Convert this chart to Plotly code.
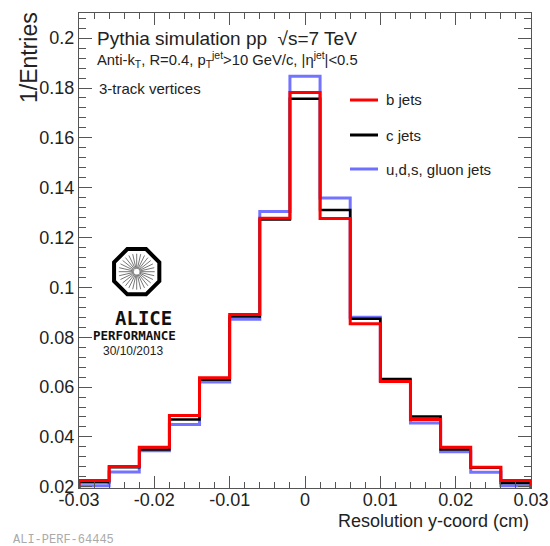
import math
import plotly.graph_objects as go

# ---------------- data ----------------
bin_edges = [-0.030, -0.026, -0.022, -0.018, -0.014, -0.010, -0.006, -0.002,
             0.002, 0.006, 0.010, 0.014, 0.018, 0.022, 0.026, 0.030]
b_jets = [0.0225, 0.0281, 0.0359, 0.0486, 0.0637, 0.0891, 0.1277, 0.1782,
          0.1276, 0.0854, 0.0622, 0.0470, 0.0359, 0.0278, 0.0225]
c_jets = [0.0218, 0.0278, 0.0349, 0.0470, 0.0629, 0.0883, 0.1272, 0.1757,
          0.1311, 0.0874, 0.0632, 0.0482, 0.0349, 0.0276, 0.0215]
udsg_jets = [0.0204, 0.0259, 0.0344, 0.0450, 0.0620, 0.0872, 0.1304, 0.1847,
             0.1359, 0.0880, 0.0626, 0.0456, 0.0340, 0.0258, 0.0204]
x_tick_vals = [-0.03, -0.02, -0.01, 0.0, 0.01, 0.02, 0.03]
x_tick_text = ["-0.03", "-0.02", "-0.01", "0", "0.01", "0.02", "0.03"]
y_tick_vals = [0.02, 0.04, 0.06, 0.08, 0.1, 0.12, 0.14, 0.16, 0.18, 0.2]
y_tick_text = ["0.02", "0.04", "0.06", "0.08", "0.1", "0.12", "0.14", "0.16", "0.18", "0.2"]

series = [
    ("u,d,s, gluon jets", udsg_jets, "rgba(90,90,255,0.85)", 3),
    ("c jets", c_jets, "black", 2.5),
    ("b jets", b_jets, "red", 3),
]

W, H = 550, 546
L, R, T, B = 79, 531, 13, 488
FONT = "Liberation Sans, Arial, sans-serif"


def px(x):
    return (x - L) / (R - L)


def py(y):
    return (B - y) / (B - T)


fig = go.Figure()
for name, vals, col, lw in series:
    xs = [bin_edges[0]] + bin_edges[:-1] + [bin_edges[-1]]
    ys = [0] + list(vals) + [0]
    fig.add_trace(go.Scatter(x=xs, y=ys, mode="lines", line=dict(shape="hv", color=col, width=lw),
                             name=name, showlegend=False, hoverinfo="skip"))

shapes = []
annotations = []

# legend (manual)
leg = [("b jets", "red", 100), ("c jets", "black", 135), ("u,d,s, gluon jets", "rgb(110,110,255)", 169)]
for txt, col, yy in leg:
    shapes.append(dict(type="line", xref="paper", yref="paper", x0=px(350), x1=px(378),
                       y0=py(yy), y1=py(yy), line=dict(color=col, width=3)))
    annotations.append(dict(text=txt, xref="paper", yref="paper", x=px(384), y=py(yy),
                            xanchor="left", yanchor="middle", showarrow=False,
                            font=dict(family=FONT, size=15, color="#222")))

# texts
annotations += [
    dict(text="Pythia simulation pp  √s=7 TeV", xref="paper", yref="paper", x=px(95), y=py(38),
         xanchor="left", yanchor="middle", showarrow=False, font=dict(family=FONT, size=19, color="#222")),
    dict(text="Anti-k<sub>T</sub>, R=0.4, p<sub>T</sub><sup>jet</sup>>10 GeV/c, |η<sup>jet</sup>|<0.5",
         xref="paper", yref="paper", x=px(95), y=py(60),
         xanchor="left", yanchor="middle", showarrow=False, font=dict(family=FONT, size=14.8, color="#222")),
    dict(text="3-track vertices", xref="paper", yref="paper", x=px(97), y=py(88),
         xanchor="left", yanchor="middle", showarrow=False, font=dict(family=FONT, size=15, color="#222")),
    dict(text="1/Entries", xref="paper", yref="paper", x=px(29), y=py(58), textangle=-90,
         xanchor="center", yanchor="middle", showarrow=False, font=dict(family=FONT, size=23, color="#222")),
    dict(text="Resolution y-coord (cm)", xref="paper", yref="paper", x=px(531), y=py(521),
         xanchor="right", yanchor="middle", showarrow=False, font=dict(family=FONT, size=18, color="#222")),
    dict(text="ALI-PERF-64445", xref="paper", yref="paper", x=px(11), y=py(540),
         xanchor="left", yanchor="middle", showarrow=False,
         font=dict(family="Liberation Mono, Courier New, monospace", size=12, color="#aaa")),
    dict(text="<b>ALICE</b>", xref="paper", yref="paper", x=px(143), y=py(318),
         xanchor="center", yanchor="middle", showarrow=False,
         font=dict(family="DejaVu Sans Mono, monospace", size=19, color="#111")),
    dict(text="<b>PERFORMANCE</b>", xref="paper", yref="paper", x=px(134), y=py(335),
         xanchor="center", yanchor="middle", showarrow=False,
         font=dict(family="DejaVu Sans Mono, monospace", size=12.5, color="#111")),
    dict(text="30/10/2013", xref="paper", yref="paper", x=px(133), y=py(351),
         xanchor="center", yanchor="middle", showarrow=False,
         font=dict(family=FONT, size=12, color="#222")),
]

# ALICE logo octagon
cx, cy, rad = 136.7, 271.7, 24.5
pts = []
for k in range(8):
    a = math.radians(22.5 + 45 * k)
    pts.append((px(cx + rad * math.cos(a)), py(cy + rad * math.sin(a))))
path = "M " + " L ".join(f"{x:.5f},{y:.5f}" for x, y in pts) + " Z"
shapes.append(dict(type="path", xref="paper", yref="paper", path=path,
                   line=dict(color="black", width=4), fillcolor="rgba(0,0,0,0)"))
for k in range(28):
    a = 2 * math.pi * k / 28
    shapes.append(dict(type="line", xref="paper", yref="paper",
                       x0=px(cx + 3 * math.cos(a)), y0=py(cy + 3 * math.sin(a)),
                       x1=px(cx + 18 * math.cos(a)), y1=py(cy + 18 * math.sin(a)),
                       line=dict(color="#777", width=1)))

axis_common = dict(showgrid=False, zeroline=False, showline=True, linecolor="#555", linewidth=1,
                   mirror="allticks", ticks="inside", tickcolor="#555", automargin=False,
                   tickfont=dict(family=FONT, size=18, color="#222"))

fig.update_layout(
    width=W, height=H, autosize=False,
    margin=dict(l=L, r=W - R, t=T, b=H - B),
    paper_bgcolor="white", plot_bgcolor="white",
    showlegend=False,
    shapes=shapes, annotations=annotations,
    xaxis=dict(range=[-0.03, 0.03], tickvals=x_tick_vals, ticktext=x_tick_text, ticklen=12,
               ticklabelstandoff=-5,
               minor=dict(ticks="inside", dtick=0.002, tick0=-0.03, ticklen=6, tickcolor="#555"),
               **axis_common),
    yaxis=dict(range=[0.0195, 0.2101], tickvals=y_tick_vals, ticktext=y_tick_text, ticklen=13,
               minor=dict(ticks="inside", dtick=0.004, tick0=0.02, ticklen=7, tickcolor="#555"),
               **axis_common),
)

fig.write_html(
    "out.html",
    config={"displayModeBar": False},
    post_script=(
        "document.documentElement.style.overflow='hidden';"
        "document.body.style.margin='0px';document.body.style.overflow='hidden';"
    ),
)
